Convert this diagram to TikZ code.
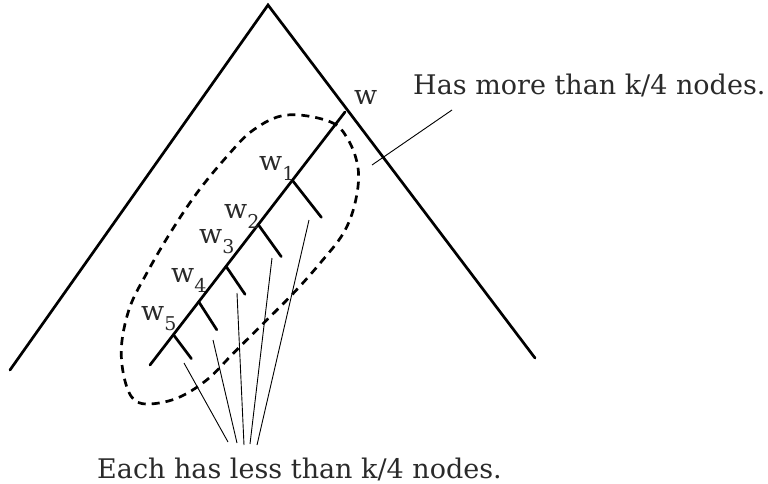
\documentclass[tikz,border=0pt]{standalone}
\usepackage{fontspec}
\setmainfont{DejaVu Serif}
\usetikzlibrary{calc}
\newcommand{\wsub}[1]{w\raisebox{-0.4em}{\fontsize{19}{19}\selectfont #1}}
\definecolor{txt}{HTML}{2a2a2a}
\tikzset{
  thickline/.style={line width=2.7pt, line cap=round},
  thinline/.style={line width=0.9pt},
  dashline/.style={line width=2.7pt, dash pattern=on 8pt off 6pt},
  lbl/.style={anchor=base west, inner sep=0pt, text depth=0pt, text=txt, font=\fontsize{27}{32}\selectfont},
}
\begin{document}
\begin{tikzpicture}[x=1pt,y=-1pt]
\useasboundingbox (0,0) rectangle (768,484);
% big tree triangle
\coordinate (apex) at (268,5);
\coordinate (L) at (10,370);
\coordinate (R) at (535,358);
\draw[thickline] (L) -- (apex) -- (R);
% spine
\coordinate (w) at (345,112);
\coordinate (sb) at (150,365);
\draw[thickline] (w) -- (sb);
\coordinate (b1) at ($(w)!0.27!(sb)$);
\coordinate (b2) at ($(w)!0.445!(sb)$);
\coordinate (b3) at ($(w)!0.61!(sb)$);
\coordinate (b4) at ($(w)!0.75!(sb)$);
\coordinate (b5) at ($(w)!0.88!(sb)$);
\coordinate (c1) at ($(b1)+(29,37)$);
\coordinate (c2) at ($(b2)+(23,32)$);
\coordinate (c3) at ($(b3)+(19,28)$);
\coordinate (c4) at ($(b4)+(18,28)$);
\coordinate (c5) at ($(b5)+(18,24)$);
\foreach \i in {1,...,5} \draw[thickline] (b\i) -- (c\i);
% labels
\node[lbl] (lw) at (354,105) {w};
\node[lbl] (lw1) at (259,170) {\wsub{1}};
\node[lbl] (lw2) at (224,218) {\wsub{2}};
\node[lbl] (lw3) at (199,243) {\wsub{3}};
\node[lbl] (lw4) at (171,282) {\wsub{4}};
\node[lbl] (lw5) at (141,320) {\wsub{5}};
% dashed region
\draw[dashline] plot[smooth cycle, tension=0.6] coordinates {
 (286.7,115) (330,121.7) (348.3,140) (358.3,170) (355,203.3) (343.3,233.3)
 (320,263.3) (293.3,293.3) (260,326.7) (233.3,353.3) (206.7,380) (176.7,398.3)
 (146.7,404) (131.7,397) (123.3,373.3) (121.7,343.3) (130,306.7) (146.7,273.3)
 (170,233.3) (196.7,193.3) (226.7,156.7) (253.3,130)};
% annotations
\node[lbl] (hm) at (413,95) {Has more than k/4 nodes.};
\coordinate (hmA) at (452,110);
\coordinate (hmB) at (372,165);
\draw[thinline] (hmA) -- (hmB);
\node[lbl] (el) at (97,478) {Each has less than k/4 nodes.};
\coordinate (t1) at (309,220);
\coordinate (t2) at (272,258);
\coordinate (t3) at (237,293);
\coordinate (t4) at (213,340);
\coordinate (t5) at (184,363);
\coordinate (e1) at (257,445);
\coordinate (e2) at (250,444);
\coordinate (e3) at (244,445);
\coordinate (e4) at (237,443);
\coordinate (e5) at (228,442);
\foreach \i in {1,...,5} \draw[thinline] (t\i) -- (e\i);
\end{tikzpicture}
\end{document}
